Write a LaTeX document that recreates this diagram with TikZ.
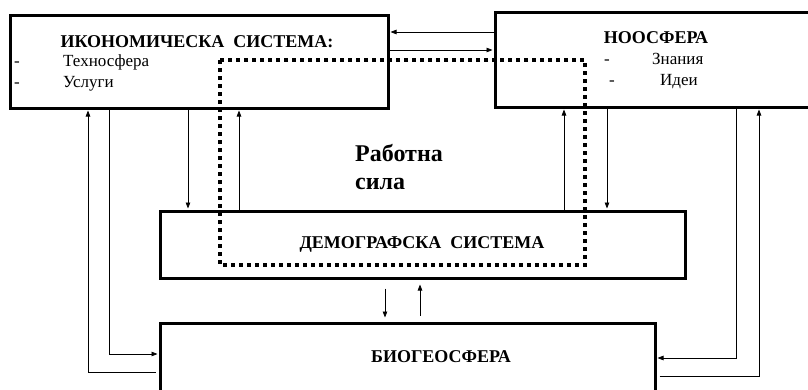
\documentclass[tikz,border=0pt]{standalone}
\usepackage{fontspec}
\setmainfont{Liberation Serif}
\usetikzlibrary{arrows.meta}
\tikzset{
  sysbox/.style={draw=black, line width=3pt, rectangle, inner sep=0pt},
  flow/.style={line width=0.8pt, -{Triangle[length=6pt,width=4.5pt]}, shorten >=1pt},
  labour/.style={line width=4pt, dash pattern=on 4pt off 4pt},
  title/.style={font=\fontsize{18}{21}\selectfont\bfseries, inner sep=0pt},
  item/.style={font=\fontsize{17}{20}\selectfont, inner sep=0pt, anchor=west,
    text height=11pt, text depth=3pt},
  big/.style={font=\fontsize{24}{28}\selectfont\bfseries, inner sep=0pt, anchor=west}
}

\begin{document}
\begin{tikzpicture}[x=1pt, y=-1pt]
  \useasboundingbox (0,0) rectangle (808,389);
  % the four systems
  \node[sysbox, minimum width=378pt, minimum height=93pt] (econ) at (199,61.5) {};
  \node[sysbox, minimum width=317pt, minimum height=95pt] (noo) at (653.5,59.5) {};
  \node[sysbox, minimum width=525pt, minimum height=67pt] (demo) at (422.5,244.5) {};
  \node[sysbox, minimum width=495pt, minimum height=90pt] (bio) at (407.5,368) {};

  % texts
  \node[title] (econ-t) at (197,42) {ИКОНОМИЧЕСКА\ \ СИСТЕМА:};
  \node[item] (econ-d1) at (14,62) {-};
  \node[item] (econ-i1) at (63,62) {Техносфера};
  \node[item] (econ-d2) at (14,83) {-};
  \node[item] (econ-i2) at (63,83) {Услуги};
  \node[title] (noo-t) at (656,38) {НООСФЕРА};
  \node[item] (noo-d1) at (604,60) {-};
  \node[item] (noo-i1) at (652,60) {Знания};
  \node[item] (noo-d2) at (609,81) {-};
  \node[item] (noo-i2) at (660,81) {Идеи};
  \node[title] (demo-t) at (422,244) {ДЕМОГРАФСКА\ \ СИСТЕМА};
  \node[title] (bio-t) at (441,357) {БИОГЕОСФЕРА};
  \node[big] (work1) at (355,153) {Работна};
  \node[big] (work2) at (355,184) {сила};

  % labour force loop
  \draw[labour] (220,60) rectangle (585,265);

  % rows and columns of the connectors
  \coordinate (r1) at (0,32);
  \coordinate (r2) at (0,50);
  \coordinate (b1) at (0,354);
  \coordinate (b2) at (0,372);
  \coordinate (b3) at (0,358);
  \coordinate (b4) at (0,376);
  \coordinate (c1) at (88,0);
  \coordinate (c2) at (109,0);
  \coordinate (c3) at (188,0);
  \coordinate (c4) at (239,0);
  \coordinate (c5) at (564,0);
  \coordinate (c6) at (607,0);
  \coordinate (c7) at (736,0);
  \coordinate (c8) at (759,0);
  \coordinate (c9) at (385,0);
  \coordinate (c10) at (420,0);

  % connectors
  \draw[flow] (noo.west |- r1) -- (econ.east |- r1);
  \draw[flow] (econ.east |- r2) -- (noo.west |- r2);
  \draw[flow] (econ.south -| c3) -- (demo.north -| c3);
  \draw[flow] (demo.north -| c4) -- (econ.south -| c4);
  \draw[flow] (demo.north -| c5) -- (noo.south -| c5);
  \draw[flow] (noo.south -| c6) -- (demo.north -| c6);
  \draw[flow] (econ.south -| c2) |- (bio.west |- b1);
  \draw[flow] ([xshift=-3pt]bio.west |- b2) -| (econ.south -| c1);
  \draw[flow] (noo.south -| c7) |- (bio.east |- b3);
  \draw[flow] ([xshift=3pt]bio.east |- b4) -| (noo.south -| c8);
  \draw[flow] ([yshift=-9pt]demo.south -| c9) -- ([yshift=3pt]bio.north -| c9);
  \draw[flow] ([yshift=6pt]bio.north -| c10) -- ([yshift=-4pt]demo.south -| c10);
\end{tikzpicture}
\end{document}
